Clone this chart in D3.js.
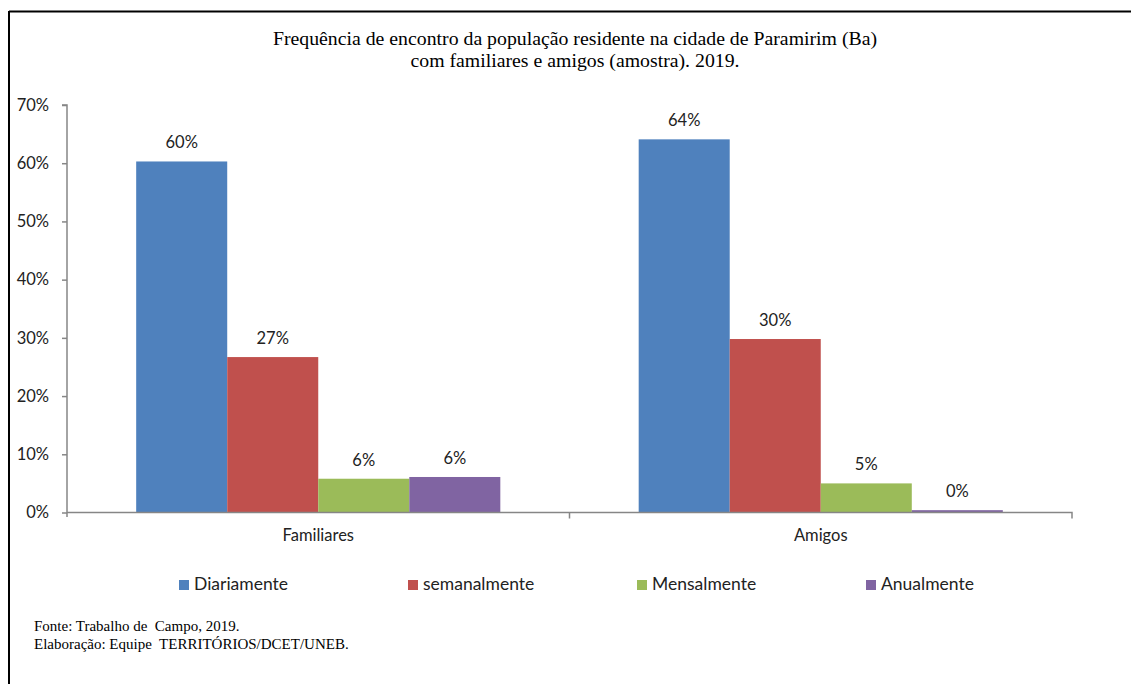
<!DOCTYPE html>
<html><head><meta charset="utf-8">
<script src="https://cdn.jsdelivr.net/npm/d3@7"></script>
<style>html,body{margin:0;padding:0;background:#fff;}</style>
</head><body>
<svg id="c" width="1131" height="684"></svg>
<script>
const categories = ["Familiares", "Amigos"];
const seriesNames = ["Diariamente", "semanalmente", "Mensalmente", "Anualmente"];
const seriesColors = ["#4F81BD", "#C0504D", "#9BBB59", "#8064A2"];
const diariamente = [60.3, 64.1];
const semanalmente = [26.7, 29.8];
const mensalmente = [5.8, 5.0];
const anualmente = [6.1, 0.4];
const dataLabels = [["60%", "27%", "6%", "6%"], ["64%", "30%", "5%", "0%"]];
const yTicks = [0, 10, 20, 30, 40, 50, 60, 70];
const titleLines = ["Frequência de encontro da população residente na cidade de Paramirim (Ba)", "com familiares e amigos (amostra). 2019."];
const footerLines = ["Fonte: Trabalho de  Campo, 2019.", "Elaboração: Equipe  TERRITÓRIOS/DCET/UNEB."];

const seriesValues = [diariamente, semanalmente, mensalmente, anualmente];
const svg = d3.select("#c");
const sans = "Lato, 'Open Sans', sans-serif";
const serif = "'Liberation Serif', 'Times New Roman', serif";

// frame (top and left)
svg.append("line").attr("x1", 9).attr("x2", 1131).attr("y1", 11.5).attr("y2", 11.5).attr("stroke", "#000").attr("stroke-width", 2);
svg.append("line").attr("x1", 9).attr("x2", 9).attr("y1", 11).attr("y2", 684).attr("stroke", "#000").attr("stroke-width", 2);

// title
svg.append("g").selectAll("text").data(titleLines).join("text")
  .attr("x", 575).attr("y", (d, i) => 45 + i * 22)
  .attr("text-anchor", "middle").attr("font-family", serif).attr("font-size", 19.8).attr("fill", "#000")
  .text(d => d);

const x0 = d3.scaleBand().domain(categories).range([67, 1072]).paddingInner(0).paddingOuter(0);
const x1 = d3.scaleBand().domain(seriesNames).range([0, x0.bandwidth()]).paddingInner(0).paddingOuter(0.76);
const y = d3.scaleLinear().domain([0, 70]).range([512.5, 105]);

// y axis
const yAxis = svg.append("g").attr("transform", "translate(67,0)")
  .call(d3.axisLeft(y).tickValues(yTicks).tickFormat(d => d + "%").tickSize(5).tickPadding(13));
yAxis.select(".domain").attr("stroke", "#868686").attr("stroke-width", 1.5).attr("d", "M-5,105H0V517");
yAxis.selectAll(".tick line").attr("stroke", "#868686").attr("stroke-width", 1.5);
yAxis.selectAll(".tick text").attr("font-family", sans).attr("font-size", 16.5).attr("fill", "#222");

// bars
const groups = svg.append("g").selectAll("g").data(categories).join("g")
  .attr("transform", d => `translate(${x0(d)},0)`);
const rows = (c, ci) => seriesNames.map((s, si) => ({ s, si, v: seriesValues[si][ci], label: dataLabels[ci][si] }));
groups.selectAll("rect").data(rows).join("rect")
  .attr("x", d => x1(d.s)).attr("width", x1.bandwidth())
  .attr("y", d => y(d.v)).attr("height", d => y(0) - y(d.v))
  .attr("fill", d => seriesColors[d.si]);
groups.selectAll("text").data(rows).join("text")
  .attr("x", d => x1(d.s) + x1.bandwidth() / 2).attr("y", d => y(d.v) - 13)
  .attr("text-anchor", "middle").attr("font-family", sans).attr("font-size", 16.5).attr("fill", "#222")
  .text(d => d.label);

// x axis
const xAxis = svg.append("g").attr("transform", "translate(0,512.5)")
  .call(d3.axisBottom(x0).tickSize(0).tickPadding(17));
xAxis.select(".domain").attr("stroke", "#868686").attr("stroke-width", 1.5).attr("d", "M67,0H1072V6");
xAxis.selectAll(".tick text").attr("font-family", sans).attr("font-size", 16.5).attr("fill", "#222");
svg.append("line").attr("x1", x0("Amigos")).attr("x2", x0("Amigos")).attr("y1", 512.5).attr("y2", 518.5)
  .attr("stroke", "#868686").attr("stroke-width", 1.5);

// legend
const legend = svg.append("g").selectAll("g").data(seriesNames).join("g")
  .attr("transform", (d, i) => `translate(${179 + i * 229},580)`);
legend.append("rect").attr("width", 10).attr("height", 10).attr("fill", (d, i) => seriesColors[i]);
legend.append("text").attr("x", 15).attr("y", 10).attr("font-family", sans).attr("font-size", 17.5).attr("fill", "#222").text(d => d);

// footer
svg.append("g").selectAll("text").data(footerLines).join("text")
  .attr("x", 34).attr("y", (d, i) => 631 + i * 18)
  .attr("font-family", serif).attr("font-size", 15).attr("fill", "#000")
  .attr("xml:space", "preserve").style("white-space", "pre")
  .text(d => d);
</script>
</body></html>
